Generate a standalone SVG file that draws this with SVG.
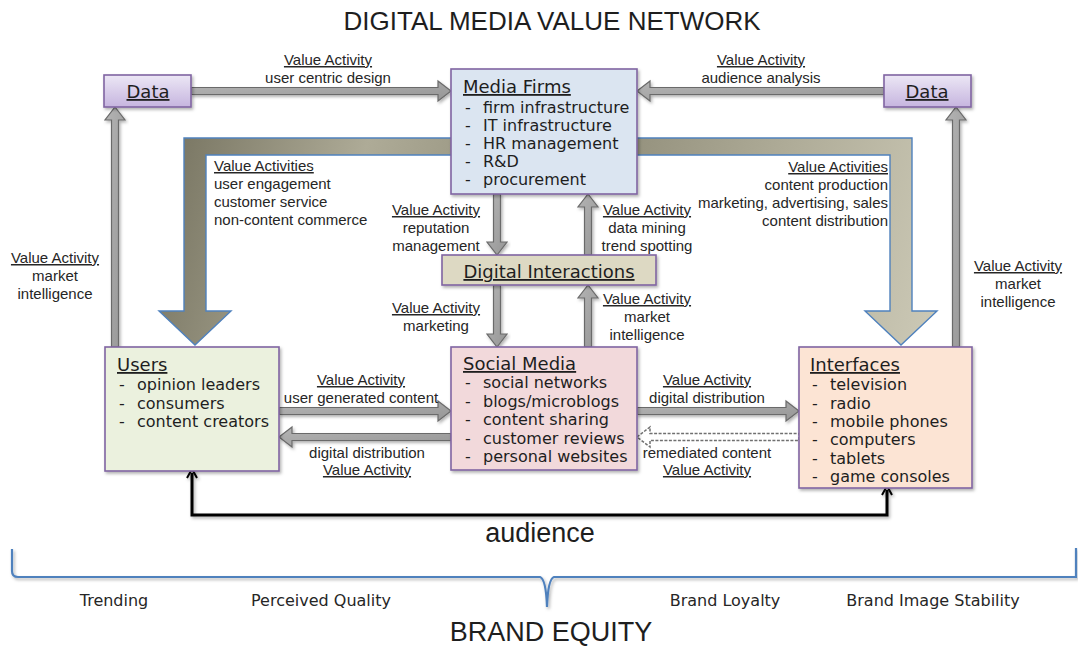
<svg xmlns="http://www.w3.org/2000/svg" width="1078" height="647" viewBox="0 0 1078 647">
<style>
.t{font-family:"Liberation Sans",Arial,sans-serif;fill:#1e1e1e}
.lbl{font-family:"Liberation Sans",Arial,sans-serif;font-size:15px;fill:#262626}
.c{text-anchor:middle}
.r{text-anchor:end}
.u{text-decoration:underline}
.bx{font-family:"DejaVu Sans",Verdana,sans-serif;font-size:16px;fill:#1e1e1e}
.bt{font-family:"DejaVu Sans",Verdana,sans-serif;font-size:18px;fill:#1e1e1e;text-decoration:underline}
.bl{font-family:"DejaVu Sans",Verdana,sans-serif;font-size:16px;fill:#262626;text-anchor:middle}
.node{stroke:#8064a2;stroke-width:1.6}
.ga{fill:url(#gray);stroke:#6a6a6a;stroke-width:1.2}
.dash{fill:#ffffff;stroke:#707070;stroke-width:1.5;stroke-dasharray:3 1.5}
</style>
<defs>
<linearGradient id="data" x1="0" y1="0" x2="0" y2="1"><stop offset="0" stop-color="#ece7f5"/><stop offset="1" stop-color="#c6b5df"/></linearGradient>
<linearGradient id="gray" x1="0" y1="0" x2="1" y2="1"><stop offset="0" stop-color="#b4b4b4"/><stop offset="1" stop-color="#969696"/></linearGradient>
<linearGradient id="band" gradientUnits="userSpaceOnUse" x1="160" y1="138" x2="940" y2="345"><stop offset="0" stop-color="#75725f"/><stop offset="0.25" stop-color="#aeab97"/><stop offset="0.5" stop-color="#8c8975"/><stop offset="0.75" stop-color="#aeab97"/><stop offset="1" stop-color="#cdcab7"/></linearGradient>
<filter id="sh" x="-10%" y="-10%" width="130%" height="140%"><feDropShadow dx="1.5" dy="2" stdDeviation="1.5" flood-color="#000" flood-opacity="0.3"/></filter>
<marker id="ah" markerWidth="12" markerHeight="12" refX="6" refY="6" orient="auto-start-reverse" markerUnits="userSpaceOnUse"><path d="M1,1 L10,6 L1,11" fill="none" stroke="#000" stroke-width="2"/></marker>
</defs>
<rect width="1078" height="647" fill="#ffffff"/>

<text class="t c" x="552" y="30" font-size="26">DIGITAL MEDIA VALUE NETWORK</text>

<g id="band-arrows">
<path d="M159,311 L184,311 L184,138 L912,138 L912,311 L937,311 L901,345 L865,311 L890,311 L890,155 L206,155 L206,311 L231,311 L195,345 Z" fill="url(#band)" stroke="#4f81bd" stroke-width="1.4"/>
</g>

<g id="connectors">
<polygon class="ga" filter="url(#sh)" points="191,87.5 438,87.5 438,81 451,91 438,101 438,94.5 191,94.5"/>
<polygon class="ga" filter="url(#sh)" points="884,87.5 650,87.5 650,81 637,91 650,101 650,94.5 884,94.5"/>
<polygon class="ga" filter="url(#sh)" points="115,107 125,120 118.5,120 118.5,347 111.5,347 111.5,120 105,120"/>
<polygon class="ga" filter="url(#sh)" points="956,107 966,120 959.5,120 959.5,347 952.5,347 952.5,120 946,120"/>
<polygon class="ga" filter="url(#sh)" points="493.5,194 500.5,194 500.5,242 507,242 497,255 487,242 493.5,242"/>
<polygon class="ga" filter="url(#sh)" points="588,194 598,207 591.5,207 591.5,255 584.5,255 584.5,207 578,207"/>
<polygon class="ga" filter="url(#sh)" points="493.5,285 500.5,285 500.5,334 507,334 497,347 487,334 493.5,334"/>
<polygon class="ga" filter="url(#sh)" points="588,285 598,298 591.5,298 591.5,347 584.5,347 584.5,298 578,298"/>
<polygon class="ga" filter="url(#sh)" points="279,407.5 438,407.5 438,401 451,411 438,421 438,414.5 279,414.5"/>
<polygon class="ga" filter="url(#sh)" points="279,437 292,427 292,433.5 451,433.5 451,440.5 292,440.5 292,447"/>
<polygon class="ga" filter="url(#sh)" points="637,407.5 786,407.5 786,401 799,411 786,421 786,414.5 637,414.5"/>
<polygon class="dash" points="637,437 650,427 650,433.5 799,433.5 799,440.5 650,440.5 650,447"/>
<polyline points="192,473 192,515 887,515 887,490" fill="none" stroke="#000" stroke-width="3" marker-start="url(#ah)" marker-end="url(#ah)" filter="url(#sh)"/>
</g>

<g id="labels">
<text class="lbl c u" x="328" y="65">Value Activity</text>
<text class="lbl c" x="328" y="83">user centric design</text>
<text class="lbl c u" x="761" y="65">Value Activity</text>
<text class="lbl c" x="761" y="83">audience analysis</text>
<text class="lbl u" x="214" y="171">Value Activities</text>
<text class="lbl" x="214" y="189">user engagement</text>
<text class="lbl" x="214" y="207">customer service</text>
<text class="lbl" x="214" y="225">non-content commerce</text>
<text class="lbl r u" x="888" y="172">Value Activities</text>
<text class="lbl r" x="888" y="190">content production</text>
<text class="lbl r" x="888" y="208">marketing, advertising, sales</text>
<text class="lbl r" x="888" y="226">content distribution</text>
<text class="lbl c u" x="55" y="263">Value Activity</text>
<text class="lbl c" x="55" y="281">market</text>
<text class="lbl c" x="55" y="299">intelligence</text>
<text class="lbl c u" x="1018" y="271">Value Activity</text>
<text class="lbl c" x="1018" y="289">market</text>
<text class="lbl c" x="1018" y="307">intelligence</text>
<text class="lbl c u" x="436" y="215">Value Activity</text>
<text class="lbl c" x="436" y="233">reputation</text>
<text class="lbl c" x="436" y="251">management</text>
<text class="lbl c u" x="647" y="215">Value Activity</text>
<text class="lbl c" x="647" y="233">data mining</text>
<text class="lbl c" x="647" y="251">trend spotting</text>
<text class="lbl c u" x="436" y="313">Value Activity</text>
<text class="lbl c" x="436" y="331">marketing</text>
<text class="lbl c u" x="647" y="304">Value Activity</text>
<text class="lbl c" x="647" y="322">market</text>
<text class="lbl c" x="647" y="340">intelligence</text>
<text class="lbl c u" x="361" y="385">Value Activity</text>
<text class="lbl c" x="361" y="403">user generated content</text>
<text class="lbl c" x="367" y="458">digital distribution</text>
<text class="lbl c u" x="367" y="475">Value Activity</text>
<text class="lbl c u" x="707" y="385">Value Activity</text>
<text class="lbl c" x="707" y="403">digital distribution</text>
<text class="lbl c" x="707" y="458">remediated content</text>
<text class="lbl c u" x="707" y="475">Value Activity</text>
</g>

<g id="data-left">
<rect class="node" x="104" y="75" width="87" height="32" fill="url(#data)" filter="url(#sh)"/>
<text class="bt" x="148" y="98" text-anchor="middle">Data</text>
</g>
<g id="data-right">
<rect class="node" x="884" y="75" width="87" height="32" fill="url(#data)" filter="url(#sh)"/>
<text class="bt" x="927" y="98" text-anchor="middle">Data</text>
</g>

<g id="media-firms">
<rect class="node" x="451" y="69" width="186" height="125" fill="#dbe5f1" filter="url(#sh)"/>
<text class="bt" x="463" y="93">Media Firms</text>
<text class="bx" x="465" y="113">-</text><text class="bx" x="483" y="113">firm infrastructure</text>
<text class="bx" x="465" y="131">-</text><text class="bx" x="483" y="131">IT infrastructure</text>
<text class="bx" x="465" y="149">-</text><text class="bx" x="483" y="149">HR management</text>
<text class="bx" x="465" y="167">-</text><text class="bx" x="483" y="167">R&amp;D</text>
<text class="bx" x="465" y="185">-</text><text class="bx" x="483" y="185">procurement</text>
</g>

<g id="digital-interactions">
<rect class="node" x="442" y="255" width="214" height="30" fill="#ddd9c3" filter="url(#sh)"/>
<text class="bt" x="549" y="278" text-anchor="middle">Digital Interactions</text>
</g>

<g id="users">
<rect class="node" x="105" y="347" width="174" height="124" fill="#ebf1de" filter="url(#sh)"/>
<text class="bt" x="117" y="371">Users</text>
<text class="bx" x="119" y="390">-</text><text class="bx" x="137" y="390">opinion leaders</text>
<text class="bx" x="119" y="408.5">-</text><text class="bx" x="137" y="408.5">consumers</text>
<text class="bx" x="119" y="427">-</text><text class="bx" x="137" y="427">content creators</text>
</g>

<g id="social-media">
<rect class="node" x="451" y="347" width="186" height="123" fill="#f2d9db" filter="url(#sh)"/>
<text class="bt" x="463" y="370">Social Media</text>
<text class="bx" x="465" y="388">-</text><text class="bx" x="483" y="388">social networks</text>
<text class="bx" x="465" y="406.5">-</text><text class="bx" x="483" y="406.5">blogs/microblogs</text>
<text class="bx" x="465" y="425">-</text><text class="bx" x="483" y="425">content sharing</text>
<text class="bx" x="465" y="443.5">-</text><text class="bx" x="483" y="443.5">customer reviews</text>
<text class="bx" x="465" y="462">-</text><text class="bx" x="483" y="462">personal websites</text>
</g>

<g id="interfaces">
<rect class="node" x="799" y="347" width="173" height="141" fill="#fce4d4" filter="url(#sh)"/>
<text class="bt" x="810" y="371">Interfaces</text>
<text class="bx" x="812" y="390">-</text><text class="bx" x="830" y="390">television</text>
<text class="bx" x="812" y="408.5">-</text><text class="bx" x="830" y="408.5">radio</text>
<text class="bx" x="812" y="427">-</text><text class="bx" x="830" y="427">mobile phones</text>
<text class="bx" x="812" y="445">-</text><text class="bx" x="830" y="445">computers</text>
<text class="bx" x="812" y="463.5">-</text><text class="bx" x="830" y="463.5">tablets</text>
<text class="bx" x="812" y="482">-</text><text class="bx" x="830" y="482">game consoles</text>
</g>

<text class="t c" x="540" y="542" font-size="27">audience</text>

<g id="brand-equity">
<path d="M12,549 L12,571 Q12,577 18,577 L540,577 Q546,579 547,607 Q548,579 554,577 L1076,577 L1076,548" fill="none" stroke="#4f81bd" stroke-width="2.2" filter="url(#sh)"/>
<text class="bl" x="114" y="606">Trending</text>
<text class="bl" x="321" y="606">Perceived Quality</text>
<text class="bl" x="725" y="606">Brand Loyalty</text>
<text class="bl" x="933" y="606">Brand Image Stability</text>
<text class="t c" x="551" y="641" font-size="27">BRAND EQUITY</text>
</g>
</svg>
